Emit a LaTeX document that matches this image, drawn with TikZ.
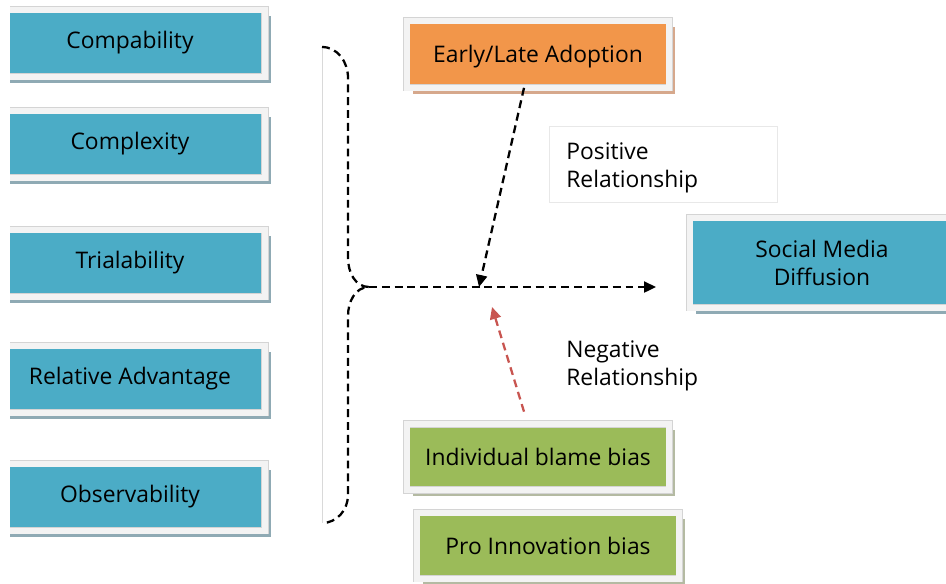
\documentclass[tikz,border=0pt]{standalone}
\usepackage{fontspec}
\setmainfont{Open Sans}
\usetikzlibrary{arrows.meta,shadows,calc}

\definecolor{boxblue}{RGB}{75,172,198}
\definecolor{boxorange}{RGB}{242,150,74}
\definecolor{boxgreen}{RGB}{155,187,89}
\definecolor{shadeblue}{RGB}{143,170,180}
\definecolor{shadeorange}{RGB}{214,168,140}
\definecolor{shadegreen}{RGB}{180,186,162}
\definecolor{rimgrey}{RGB}{212,212,212}
\definecolor{rimfill}{RGB}{243,243,243}
\definecolor{linkred}{RGB}{200,85,80}

\tikzset{
  card/.style={draw=rimgrey, double=rimfill, double distance=0.12cm, line width=0.4pt,
    text=black, font=\fontsize{13}{15.9}\selectfont, align=center, inner sep=0pt},
  oneline/.style={text height=12.2pt, text depth=2pt},
  bluecard/.style={card, fill=boxblue,
    drop shadow={shadow xshift=0.12cm, shadow yshift=-0.12cm, fill=shadeblue, opacity=1}},
  orangecard/.style={card, oneline, fill=boxorange,
    drop shadow={shadow xshift=0.12cm, shadow yshift=-0.12cm, fill=shadeorange, opacity=1}},
  greencard/.style={card, fill=boxgreen,
    drop shadow={shadow xshift=0.12cm, shadow yshift=-0.12cm, fill=shadegreen, opacity=1}},
  factor/.style={bluecard, minimum width=5.4cm, minimum height=1.34cm},
  note/.style={font=\fontsize{13}{15.9}\selectfont, align=left, inner sep=0pt, anchor=west},
  flow/.style={line width=1.3pt, dash pattern=on 4.5pt off 2.8pt,
    -{Triangle[length=0.24cm,width=0.22cm]}},
  bracket/.style={line width=1.3pt, dash pattern=on 4.5pt off 2.8pt}
}

\begin{document}
\begin{tikzpicture}[x=0.02cm,y=-0.02cm,line cap=butt]
\useasboundingbox (0,0) rectangle (946,583);
\clip (0,0) rectangle (946,583);

% innovation attributes (cut at the left edge)
\begin{scope}
\clip (10,0) rectangle (300,583);
\node[factor] (compat) at (130,43) {Compability};
\node[factor] (complex) at (130,144) {Complexity};
\node[factor] (trial) at (130,263) {Trialability};
\node[factor] (advant) at (130,379) {Relative Advantage};
\node[factor] (observ) at (130,497) {Observability};
\end{scope}

% brace
\coordinate (hub) at (369,287);
\draw[gray!30, line width=0.5pt] (322,47) -- (322,523);
\draw[bracket] (322,47) to[out=0,in=90] (348,78) -- (348,258)
  to[out=-90,in=180] (hub) to[out=180,in=90] (348,316)
  -- (348,495) to[out=-90,in=0] (322,523);

% moderators
\node[orangecard, minimum width=5.26cm, minimum height=1.34cm] (early) at (538,54) {Early/Late Adoption};
\node[greencard, minimum width=5.26cm, minimum height=1.32cm] (blame) at (538,457) {Individual blame bias};
\node[greencard, minimum width=5.26cm, minimum height=1.32cm] (proinn) at (548,545.5) {Pro Innovation bias};

% outcome
\node[bluecard, minimum width=5.3cm, minimum height=1.8cm] (diffusion) at (822,262.5) {Social Media\\Diffusion};

% relationship labels
\node[draw=gray!18, fill=white, minimum width=4.56cm, minimum height=1.52cm] (posframe) at (663,164) {};
\node[note] (pos) at (566,168) {Positive\\Relationship};
\node[note] (neg) at (566,366) {Negative\\Relationship};

% arrows
\coordinate (tip) at (656,287);
\coordinate (meet) at (479,287);
\coordinate (below) at (492,307);
\draw[flow] (hub) -- (tip);
\draw[flow] ($(early.south)+(-14,0)$) -- (meet);
\draw[flow, draw=linkred, -{Triangle[length=0.24cm,width=0.22cm,fill=linkred]}]
  ($(blame.north)+(-14,-12)$) -- (below);
\end{tikzpicture}
\end{document}
